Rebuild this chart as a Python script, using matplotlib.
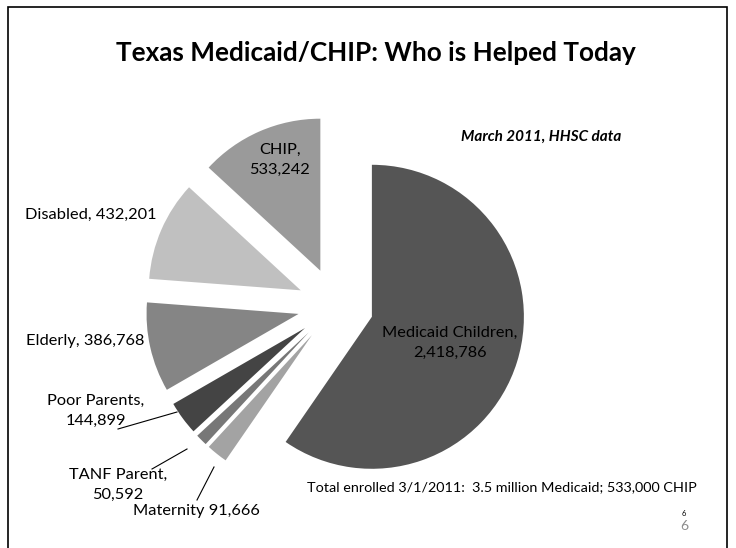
import matplotlib.pyplot as plt
from matplotlib.patches import Rectangle

plt.rcParams['font.family'] = ['Lato', 'DejaVu Sans']

# enrolment by group, March 2011 (HHSC)
groups = ['Medicaid Children', 'Maternity', 'TANF Parent', 'Poor Parents',
          'Elderly', 'Disabled', 'CHIP']
enrolled = [2418786, 91666, 50592, 144899, 386768, 432201, 533242]
shades = ['#555555', '#a3a3a3', '#777777', '#444444', '#858585', '#c0c0c0', '#9a9a9a']

W, H = 736, 548
fig = plt.figure(figsize=(W / 100, H / 100), dpi=100)
ax = fig.add_axes([0, 0, 1, 1])

ax.pie(enrolled, colors=shades, startangle=90, counterclock=False,
       explode=[0.25] * len(enrolled), radius=1,
       wedgeprops=dict(linewidth=0))

# pie centre sits at (336, 305) px, radius 152 px
cx, cy, r = 335.6, 305.5, 152.0
ax.set_xlim(-cx / r, (W - cx) / r)
ax.set_ylim(-(H - cy) / r, cy / r)
ax.set_aspect('equal')
ax.axis('off')


def fx(px):
    return px / W


def fy(py):
    return 1 - py / H


# slide frame
fig.patches.append(Rectangle((fx(8), fy(560)), fx(727) - fx(8), fy(7) - fy(560),
                             transform=fig.transFigure, fill=False,
                             edgecolor='black', linewidth=1.2))

fig.text(fx(376), fy(53), 'Texas Medicaid/CHIP: Who is Helped Today',
         ha='center', va='center', fontsize=18.8, fontweight='bold')
fig.text(fx(541), fy(137), 'March 2011, HHSC data', ha='center', va='center',
         fontsize=11, fontweight='bold', fontstyle='italic')

lab = dict(ha='center', va='center', fontsize=11.8, linespacing=1.55)
fig.text(fx(280), fy(160), 'CHIP,\n533,242', **lab)
fig.text(fx(91), fy(215), 'Disabled, 432,201', **lab)
fig.text(fx(85), fy(341), 'Elderly, 386,768', **lab)
fig.text(fx(450), fy(343), 'Medicaid Children,\n2,418,786', **lab)
fig.text(fx(96), fy(411), 'Poor Parents,\n144,899', **lab)
fig.text(fx(118), fy(485), 'TANF Parent,\n50,592', **lab)
fig.text(fx(196), fy(511), 'Maternity 91,666', **lab)

leaders = [((118, 429), (177, 412)), ((152, 469), (187, 449)), ((197, 500), (214, 467))]
for (x0, y0), (x1, y1) in leaders:
    fig.add_artist(plt.Line2D([fx(x0), fx(x1)], [fy(y0), fy(y1)],
                              transform=fig.transFigure, color='black', linewidth=0.8))

fig.text(fx(502), fy(487), 'Total enrolled 3/1/2011:  3.5 million Medicaid; 533,000 CHIP',
         ha='center', va='center', fontsize=10.4)
fig.text(fx(684), fy(513), '6', ha='center', va='center', fontsize=5.5)
fig.text(fx(684), fy(526), '6', ha='center', va='center', fontsize=10, color='#8c8c8c')

fig.savefig('out.png', dpi=100)
